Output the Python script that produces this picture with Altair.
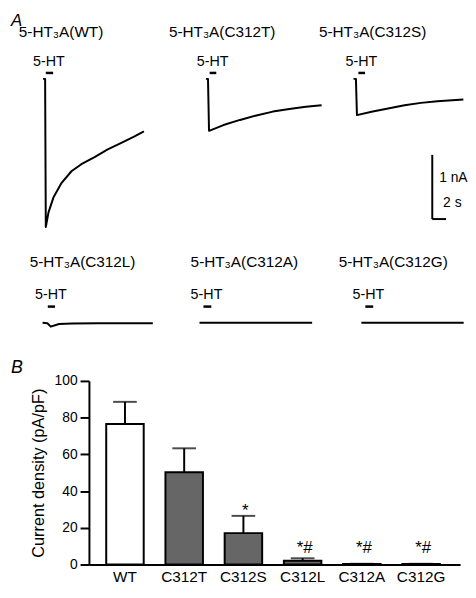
import altair as alt
import pandas as pd

# ---------------- Panel A: current traces (time in s, current in nA) ----------------
wt_t = [0, 0.3, 0.4, 0.79, 1.5, 2.69, 4.11, 5.54, 7.46, 9.36, 11.26, 13.17, 14.6]
wt_i = [0, 0, -2.31, -2.08, -1.85, -1.62, -1.44, -1.33, -1.22, -1.10, -1.00, -0.90, -0.82]
c312t_t = [0, 0.3, 0.45, 2.54, 4.93, 7.31, 9.69, 12.07, 14.46, 16.74]
c312t_i = [0, 0, -0.81, -0.72, -0.64, -0.57, -0.51, -0.47, -0.435, -0.41]
c312s_t = [0, 0.35, 0.5, 2.61, 5.0, 7.39, 9.76, 12.14, 15.9]
c312s_i = [0, 0, -0.565, -0.513, -0.462, -0.411, -0.374, -0.349, -0.32]
c312l_t = [0, 0.7, 1.19, 2.38, 4.29, 8.0, 12.0, 15.96]
c312l_i = [0, -0.01, -0.062, -0.02, -0.011, -0.01, -0.01, -0.008]
c312a_t = [0, 4, 8, 12, 16.3]
c312a_i = [0, 0, 0, 0, 0]
c312g_t = [0, 4, 8, 12, 14.8]
c312g_i = [0, 0, 0, 0, 0]

trace_titles = ["5-HT₃A(WT)", "5-HT₃A(C312T)", "5-HT₃A(C312S)",
                "5-HT₃A(C312L)", "5-HT₃A(C312A)", "5-HT₃A(C312G)"]
app_on = [0.4, 0.54, 0.71, 0.76, 0.57, 0.57]     # 5-HT application start (s)
app_off = [1.46, 1.5, 1.67, 1.81, 1.71, 1.71]    # 5-HT application end (s)

scale_nA = 1.0
scale_s = 2.0

# ---------------- Panel B: current density ----------------
groups = ["WT", "C312T", "C312S", "C312L", "C312A", "C312G"]
density = [76.6, 50.3, 17.1, 2.1, 0.3, 0.3]
sem = [12.0, 13.0, 9.4, 1.3, 0.1, 0.1]
sig = ["", "", "*", "*#", "*#", "*#"]
sig_y = [0, 0, 26.7, 6.4, 6.4, 6.4]
y_ticks = [0, 20, 40, 60, 80, 100]
bar_fill = ["white", "#666666", "#666666", "#666666", "#666666", "#666666"]

# ---------------- layout (pixels) ----------------
PX_S = 7.0
PX_NA = 65.0
FONT = "Liberation Sans"
widths = [152, 164, 144]
row_h = [230, 121]
row_base = [67, 84]
trace_x0 = [[32.5, 45.5, 31], [32, 39, 39]]
title_x = [[8, 8, -4], [19, 30, 16]]
title_y = [20, 22.7]
lbl_y = [50, 56]
appbar_y = [61, 67.7]
BAR_W, BAR_H, B_LEFT, B_TOP = 376, 186, 79, 22


def panel(k, t, i, extra_fn=None):
    r, c = divmod(k, 3)
    w, h = widths[c], row_h[r]
    x0, base = trace_x0[r][c], row_base[r]
    xs = alt.Scale(domain=[-x0 / PX_S, (w - x0) / PX_S], nice=False, zero=False)
    ys = alt.Scale(domain=[-(h - base) / PX_NA, base / PX_NA], nice=False, zero=False)
    df = pd.DataFrame({"t": t, "i": i})
    line = alt.Chart(df).mark_line(color="black", strokeWidth=2, strokeJoin="round").encode(
        x=alt.X("t:Q", scale=xs, axis=None), y=alt.Y("i:Q", scale=ys, axis=None))
    adf = pd.DataFrame({"on": [app_on[k]], "off": [app_off[k]], "txt": ["5-HT"],
                        "title": [trace_titles[k]]})
    app = alt.Chart(adf).mark_rule(color="black", strokeWidth=2.5).encode(
        x=alt.X("on:Q", scale=xs, axis=None), x2="off:Q", y=alt.value(appbar_y[r]))
    lbl = alt.Chart(adf).mark_text(align="left", baseline="middle", dx=-13, fontSize=14.5,
                                   font=FONT, color="black").encode(
        x=alt.X("on:Q", scale=xs, axis=None), y=alt.value(lbl_y[r]), text="txt:N")
    ttl = alt.Chart(adf).mark_text(align="left", baseline="middle", fontSize=15.5,
                                   font=FONT, color="black").encode(
        x=alt.value(title_x[r][c]), y=alt.value(title_y[r]), text="title:N")
    layers = [line, app, lbl, ttl]
    if extra_fn is not None:
        layers += extra_fn(xs, ys)
    return alt.layer(*layers).properties(width=w, height=h)


def panel_letter(s, size):
    return alt.Chart(pd.DataFrame({"s": [s]})).mark_text(
        align="left", baseline="top", fontSize=size, fontStyle="italic", font=FONT,
        color="black").encode(text="s:N")


def letter_A(xs, ys):
    return [panel_letter("A", 17).encode(x=alt.value(0), y=alt.value(0))]


def scale_bar(xs, ys):
    t0, i0 = 11.4, -2.185
    sdf = pd.DataFrame({"t": [t0], "t2": [t0 + scale_s], "i": [i0], "i2": [i0 + scale_nA]})
    vert = alt.Chart(sdf).mark_rule(color="black", strokeWidth=2).encode(
        x=alt.X("t:Q", scale=xs, axis=None), y=alt.Y("i:Q", scale=ys, axis=None), y2="i2:Q")
    hori = alt.Chart(sdf).mark_rule(color="black", strokeWidth=2).encode(
        x=alt.X("t:Q", scale=xs, axis=None), x2="t2:Q", y=alt.Y("i:Q", scale=ys, axis=None))
    tdf = pd.DataFrame({"t": [t0, t0], "i": [i0 + 0.645, i0 + 0.245], "txt": ["1 nA", "2 s"]})
    t1 = alt.Chart(tdf.iloc[[0]]).mark_text(align="left", baseline="middle", dx=7, fontSize=14,
                                            font=FONT, color="black").encode(
        x=alt.X("t:Q", scale=xs, axis=None), y=alt.Y("i:Q", scale=ys, axis=None), text="txt:N")
    t2 = alt.Chart(tdf.iloc[[1]]).mark_text(align="left", baseline="middle", dx=11, fontSize=14,
                                            font=FONT, color="black").encode(
        x=alt.X("t:Q", scale=xs, axis=None), y=alt.Y("i:Q", scale=ys, axis=None), text="txt:N")
    return [vert, hori, t1, t2]


row1 = alt.hconcat(panel(0, wt_t, wt_i, letter_A), panel(1, c312t_t, c312t_i),
                   panel(2, c312s_t, c312s_i, scale_bar), spacing=0, bounds="flush")
row2 = alt.hconcat(panel(3, c312l_t, c312l_i), panel(4, c312a_t, c312a_i),
                   panel(5, c312g_t, c312g_i), spacing=0, bounds="flush")

# ---------------- bar chart ----------------
bdf = pd.DataFrame({"g": groups, "v": density, "sem": sem, "sig": sig, "sig_y": sig_y})
bdf["top"] = bdf["v"] + bdf["sem"]
xsc = alt.Scale(domain=groups, paddingInner=0.367, paddingOuter=0.317, align=0.46)
ysc = alt.Scale(domain=[0, 100], nice=False)
xax = alt.Axis(title=None, labelAngle=0, ticks=False, tickSize=0, domainWidth=2,
               domainColor="black", labelFontSize=15.5, labelPadding=5,
               labelColor="black", labelFont=FONT)
yax = alt.Axis(title="Current density (pA/pF)", values=y_ticks,
               grid=False, tickSize=9, tickWidth=2, tickColor="black",
               domainWidth=2, domainColor="black", labelFontSize=14,
               labelPadding=3, labelColor="black", labelFont=FONT,
               labelOverlap=False, labelFlush=False,
               titleFontSize=16.5, titleFontWeight="normal", titleColor="black",
               titleFont=FONT, titlePadding=8)
xn = alt.X("g:N", scale=xsc, sort=groups, axis=xax)
bars = alt.Chart(bdf).mark_bar(stroke="black", strokeWidth=2).encode(
    x=xn, y=alt.Y("v:Q", scale=ysc, axis=yax),
    fill=alt.Fill("g:N", scale=alt.Scale(domain=groups, range=bar_fill), legend=None))
err = alt.Chart(bdf).mark_rule(color="black", strokeWidth=2).encode(
    x=xn, y=alt.Y("v:Q", scale=ysc, axis=yax), y2="top:Q")
cap = alt.Chart(bdf).mark_tick(color="black", thickness=2, size=24, orient="horizontal").encode(
    x=xn, y=alt.Y("top:Q", scale=ysc, axis=yax))
stars = alt.Chart(bdf[bdf["sig"] != ""]).mark_text(
    baseline="alphabetic", dx=2, fontSize=17, font=FONT, color="black").encode(
    x=xn, y=alt.Y("sig_y:Q", scale=ysc, axis=yax), text="sig:N")
letter_B = panel_letter("B", 18).encode(x=alt.value(-B_LEFT), y=alt.value(-B_TOP))
chartB = alt.layer(bars, err, cap, stars, letter_B).properties(width=BAR_W, height=BAR_H)

spacer = alt.Chart(pd.DataFrame({"a": [0]})).mark_point(opacity=0).encode(
    x=alt.value(0), y=alt.value(0)).properties(width=B_LEFT, height=BAR_H)
rowB = alt.hconcat(spacer, chartB, spacing=0, bounds="flush")

chart = alt.vconcat(row1, row2, rowB, spacing=0).properties(
    padding=0).configure(font=FONT).configure_view(stroke=None, fill="white")

chart.save("out.html", embed_options={"renderer": "svg", "actions": False})
